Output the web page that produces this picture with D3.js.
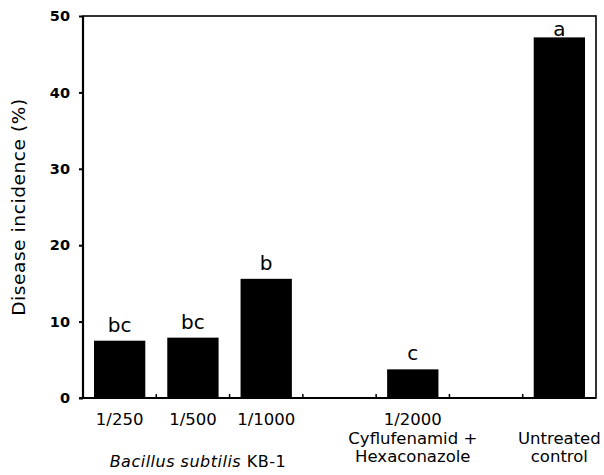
<!DOCTYPE html>
<html>
<head>
<meta charset="utf-8">
<script src="https://cdn.jsdelivr.net/npm/d3@7"></script>
<style>
  body { margin: 0; background: #fff; }
  svg { display: block; font-family: "DejaVu Sans", sans-serif; }
</style>
</head>
<body>
<svg class="chart"></svg>
<script>
// slots on the x axis (two empty gaps between the groups)
var categories = ["1/250", "1/500", "1/1000", "gap1", "1/2000", "gap2", "control"];
var treatments = ["1/250", "1/500", "1/1000", "1/2000", "control"];
var incidence = [7.5, 7.9, 15.6, 3.75, 47.2];
var letters = ["bc", "bc", "b", "c", "a"];
var tickLines = [["1/250"], ["1/500"], ["1/1000"],
                 ["1/2000", "Cyflufenamid +", "Hexaconazole"],
                 ["", "Untreated", "control"]];
var yTicks = [0, 10, 20, 30, 40, 50];

var margin = {top: 16, right: 8, bottom: 77, left: 83},
    width = 604 - margin.left - margin.right,
    height = 475 - margin.top - margin.bottom;

var svg = d3.select(".chart")
    .attr("width", 604)
    .attr("height", 475)
  .append("g")
    .attr("transform", "translate(" + margin.left + "," + margin.top + ")");

var xScale = d3.scaleBand().domain(categories).range([0, width])
    .paddingInner(0.3).paddingOuter(0.15);
var yScale = d3.scaleLinear().domain([0, 50]).range([height, 0]);

// bars
svg.selectAll(".bar")
    .data(treatments)
  .enter().append("rect")
    .attr("class", "bar")
    .attr("x", function(d) { return xScale(d); })
    .attr("width", xScale.bandwidth())
    .attr("y", function(d, i) { return yScale(incidence[i]); })
    .attr("height", function(d, i) { return height - yScale(incidence[i]); })
    .attr("fill", "#000");

// significance letters
svg.selectAll(".letter")
    .data(treatments)
  .enter().append("text")
    .attr("class", "letter")
    .attr("x", function(d) { return xScale(d) + xScale.bandwidth() / 2; })
    .attr("y", function(d, i) { return Math.max(yScale(incidence[i]) - 9, yScale(50) + 20); })
    .attr("text-anchor", "middle")
    .style("font-size", "20px")
    .text(function(d, i) { return letters[i]; });

// y axis
var yAxis = d3.axisLeft(yScale).tickValues(yTicks).tickSize(4).tickPadding(9);
var yg = svg.append("g").attr("class", "y axis").call(yAxis);
yg.select(".domain").remove();
yg.selectAll(".tick line").attr("stroke", "#000").attr("stroke-width", 2);
yg.selectAll(".tick text")
    .style("font-family", "DejaVu Sans")
    .style("font-size", "14.5px")
    .style("font-weight", "bold")
    .attr("fill", "#000");

// frame
svg.append("rect")
    .attr("x", 0).attr("y", 0)
    .attr("width", width).attr("height", height)
    .attr("fill", "none").attr("stroke", "#000").attr("stroke-width", 1.6);
svg.append("line").attr("x1", 0).attr("x2", 0).attr("y1", 0).attr("y2", height)
    .attr("stroke", "#000").attr("stroke-width", 2.2);
svg.append("line").attr("x1", -4).attr("x2", width).attr("y1", height).attr("y2", height)
    .attr("stroke", "#000").attr("stroke-width", 2.2);

// inward ticks between slots
var gapHalf = xScale.step() * xScale.paddingInner() / 2;
svg.selectAll(".xtick")
    .data(categories.slice(1))
  .enter().append("line")
    .attr("class", "xtick")
    .attr("x1", function(d) { return xScale(d) - gapHalf; })
    .attr("x2", function(d) { return xScale(d) - gapHalf; })
    .attr("y1", height).attr("y2", height - 4)
    .attr("stroke", "#000").attr("stroke-width", 1.5);

// x tick labels
var xl = svg.selectAll(".xlabel")
    .data(treatments)
  .enter().append("text")
    .attr("class", "xlabel")
    .attr("text-anchor", "middle")
    .attr("transform", function(d) {
      return "translate(" + (xScale(d) + xScale.bandwidth() / 2) + "," + (height + 27) + ")";
    })
    .style("font-size", "16.5px");
xl.selectAll("tspan")
    .data(function(d, i) { return tickLines[i]; })
  .enter().append("tspan")
    .attr("x", 0)
    .attr("y", function(d, j) { return j * 18.5; })
    .text(function(d) { return d; });

// group label under the Bacillus bars
var gx = (xScale("1/250") + xScale("1/1000") + xScale.bandwidth()) / 2;
var gl = svg.append("text")
    .attr("x", gx + 5)
    .attr("y", height + 69)
    .attr("text-anchor", "middle")
    .style("font-size", "16px")
    .style("letter-spacing", "0.5px");
gl.append("tspan").style("font-style", "italic").text("Bacillus subtilis");
gl.append("tspan").text(" KB-1");

// y label
svg.append("text")
    .attr("class", "label")
    .attr("transform", "rotate(-90)")
    .attr("x", -(yScale(25)))
    .attr("y", -58)
    .attr("text-anchor", "middle")
    .style("font-size", "18.5px")
    .style("letter-spacing", "0.6px")
    .text("Disease incidence (%)");
</script>
</body>
</html>
